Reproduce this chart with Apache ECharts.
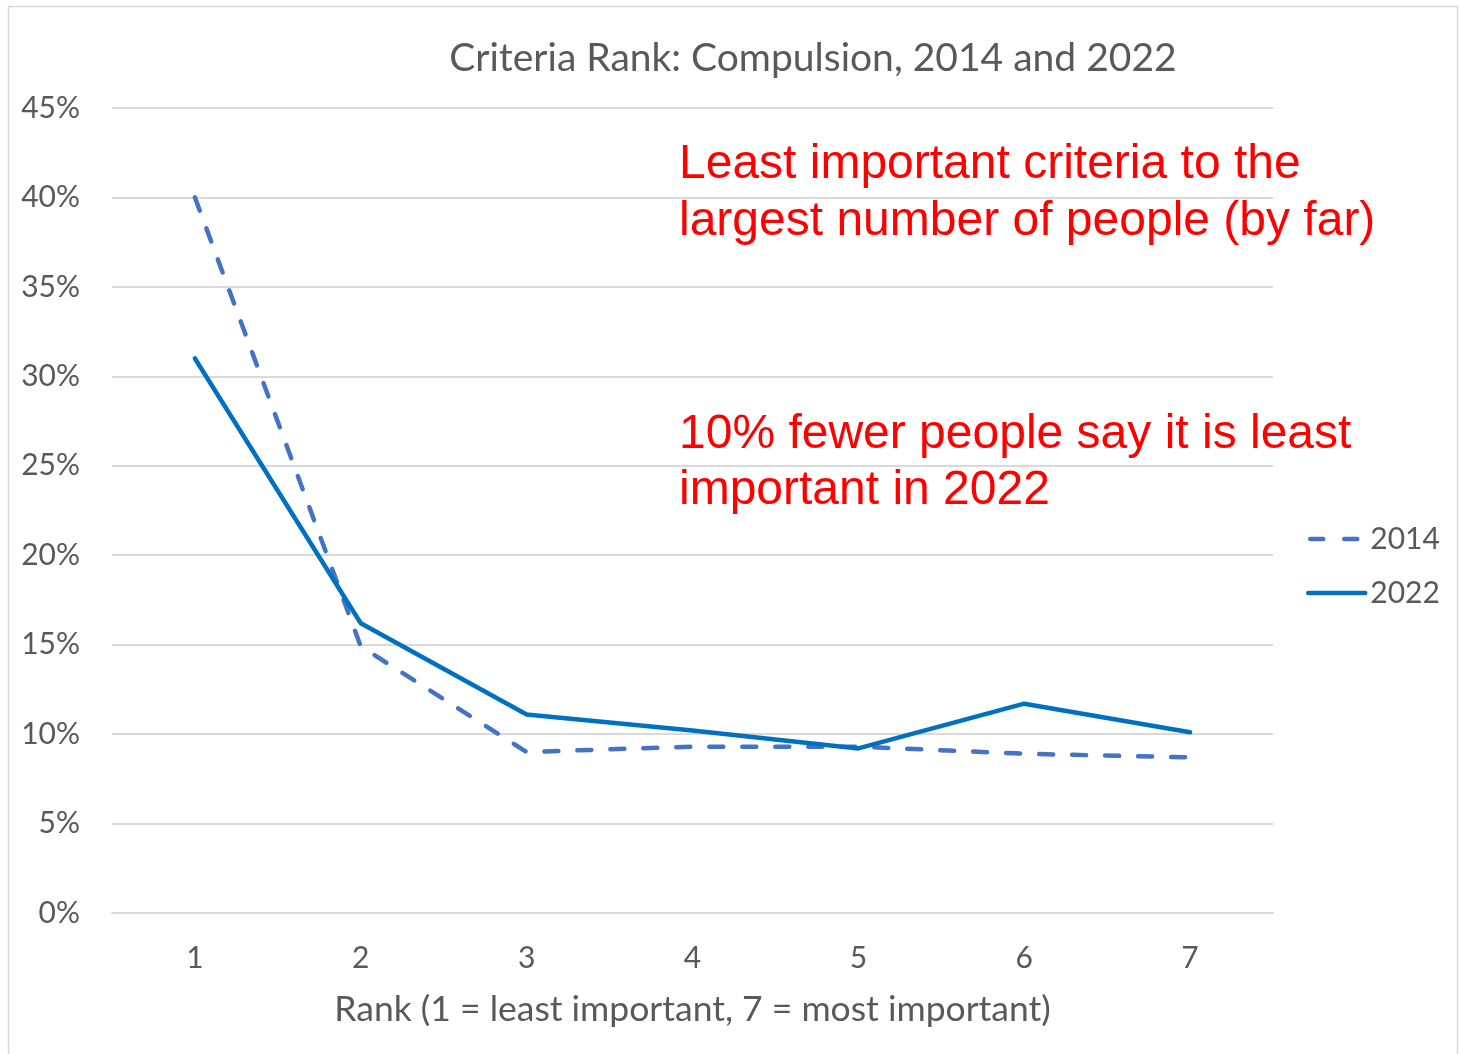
<!DOCTYPE html>
<html>
<head>
<meta charset="utf-8">
<style>
  html, body { margin: 0; padding: 0; background: #ffffff; }
  #chart { width: 1460px; height: 1054px; }
</style>
<script src="https://cdn.jsdelivr.net/npm/echarts@6/dist/echarts.min.js"></script>
</head>
<body>
<div id="chart"></div>
<script>
// Rank categories (1 = least important, 7 = most important)
const ranks = ['1', '2', '3', '4', '5', '6', '7'];
// Share of respondents (%) giving each rank to "Compulsion"
const share2014 = [40.0, 14.9, 9.0, 9.3, 9.3, 8.9, 8.7];
const share2022 = [31.0, 16.2, 11.1, 10.2, 9.2, 11.7, 10.1];
// Value-axis settings
const yMin = 0, yMax = 45, yStep = 5;

const noteLines1 = ['Least important criteria to the', 'largest number of people (by far)'];
const noteLines2 = ['10% fewer people say it is least', 'important in 2022'];

const textGray = '#595959';
const uiFont = 'Lato, "Open Sans", sans-serif';
const noteFont = '"Liberation Sans", Arial, sans-serif';
const dash2014 = [14, 19];

const chart = echarts.init(document.getElementById('chart'), null, { renderer: 'canvas' });

chart.setOption({
  backgroundColor: '#ffffff',
  animation: false,
  title: {
    text: 'Criteria Rank: Compulsion, 2014 and 2022',
    left: 808,
    textAlign: 'center',
    top: 34,
    textStyle: { color: textGray, fontFamily: uiFont, fontSize: 39, fontWeight: 'normal' }
  },
  grid: { left: 112, right: 187, top: 108, bottom: 141, containLabel: false },
  legend: {
    orient: 'vertical',
    left: 1306,
    top: 524,
    padding: 0,
    itemWidth: 57,
    itemHeight: 6,
    itemGap: 24,
    itemStyle: { opacity: 0 },
    lineStyle: { width: 4.5, cap: 'round' },
    textStyle: { color: textGray, fontFamily: uiFont, fontSize: 30, padding: [0, 0, 0, 0] },
    data: [
      { name: '2014', lineStyle: { width: 4.5, type: [13, 21], dashOffset: -2, cap: 'round' } },
      { name: '2022', lineStyle: { width: 4.5, cap: 'round' } }
    ]
  },
  xAxis: {
    type: 'category',
    data: ranks,
    boundaryGap: true,
    axisLine: { show: true, lineStyle: { color: '#d9d9d9', width: 2 } },
    axisTick: { show: false },
    axisLabel: { color: textGray, fontFamily: uiFont, fontSize: 30, margin: 30 },
    name: 'Rank (1 = least important, 7 = most important)',
    nameLocation: 'middle',
    nameGap: 79,
    nameTextStyle: { color: textGray, fontFamily: uiFont, fontSize: 35.5 }
  },
  yAxis: {
    type: 'value',
    min: yMin,
    max: yMax,
    interval: yStep,
    axisLine: { show: false },
    axisTick: { show: false },
    splitLine: { lineStyle: { color: '#d9d9d9', width: 2 } },
    axisLabel: {
      formatter: '{value}%',
      color: textGray, fontFamily: uiFont, fontSize: 30, margin: 32
    }
  },
  series: [
    {
      name: '2014',
      type: 'line',
      data: share2014,
      symbol: 'none',
      color: '#4472c4',
      lineStyle: { color: '#4472c4', width: 4.5, type: dash2014, cap: 'round', join: 'round' },
      z: 2
    },
    {
      name: '2022',
      type: 'line',
      data: share2022,
      symbol: 'none',
      color: '#0070c0',
      lineStyle: { color: '#0070c0', width: 4.5, cap: 'round', join: 'round' },
      z: 3
    }
  ],
  graphic: [
    {
      type: 'rect',
      shape: { x: 8.5, y: 6.5, width: 1449, height: 1060 },
      style: { fill: 'none', stroke: '#d9d9d9', lineWidth: 1.5 },
      silent: true, z: -10
    },
    {
      type: 'text',
      left: 679, top: 136,
      style: {
        text: noteLines1.join('\n'),
        fill: '#ff0000', font: '48px ' + noteFont, lineHeight: 57
      }
    },
    {
      type: 'text',
      left: 679, top: 407,
      style: {
        text: noteLines2.join('\n'),
        fill: '#ff0000', font: '48px ' + noteFont, lineHeight: 56
      }
    }
  ]
});
</script>
</body>
</html>
